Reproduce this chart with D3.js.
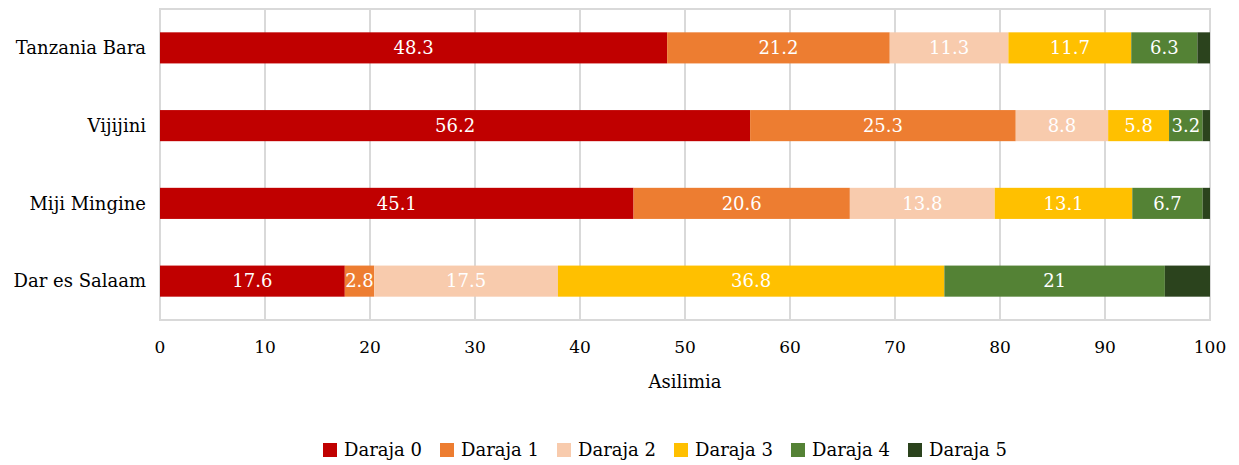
<!DOCTYPE html>
<html>
<head>
<meta charset="utf-8">
<script src="https://cdn.jsdelivr.net/npm/d3@7"></script>
<style>
    body { margin: 0; background: #fff; }
    svg { display: block; }
</style>
</head>
<body>
<svg id="chart"></svg>
<script>
// Data
const categories = ['Tanzania Bara', 'Vijijini', 'Miji Mingine', 'Dar es Salaam'];
const seriesNames = ['Daraja 0', 'Daraja 1', 'Daraja 2', 'Daraja 3', 'Daraja 4', 'Daraja 5'];
const daraja0 = [48.3, 56.2, 45.1, 17.6];
const daraja1 = [21.2, 25.3, 20.6, 2.8];
const daraja2 = [11.3, 8.8, 13.8, 17.5];
const daraja3 = [11.7, 5.8, 13.1, 36.8];
const daraja4 = [6.3, 3.2, 6.7, 21];
const daraja5 = [1.2, 0.7, 0.7, 4.3];
const xTicks = [0, 10, 20, 30, 40, 50, 60, 70, 80, 90, 100];
const colors = ['#C00000', '#ED7D31', '#F8CBAD', '#FFC000', '#548235', '#2B431D'];
const showLabel = [true, true, true, true, true, false];

const FONT = '"Palatino Linotype", "Book Antiqua", Palatino, "DejaVu Serif", serif';
const width = 1239, height = 465;
const margin = { top: 9, right: 29, bottom: 145, left: 160 };
const plotW = width - margin.left - margin.right;
const plotH = height - margin.top - margin.bottom;

const svg = d3.select('#chart')
    .attr('width', width)
    .attr('height', height)
    .style('font-family', FONT);

const seriesValues = [daraja0, daraja1, daraja2, daraja3, daraja4, daraja5];
const rows = categories.map((c, i) => {
    const row = { category: c };
    seriesNames.forEach((s, k) => { row[s] = seriesValues[k][i]; });
    return row;
});
const stacked = d3.stack().keys(seriesNames)(rows);

const x = d3.scaleLinear().domain([0, 100]).range([0, plotW]);
const y = d3.scaleBand().domain(categories).range([0, plotH]).paddingInner(0.6).paddingOuter(0.3);

const g = svg.append('g').attr('transform', `translate(${margin.left},${margin.top})`);

// gridlines
g.selectAll('line.grid')
    .data(xTicks)
    .enter()
    .append('line')
    .attr('class', 'grid')
    .attr('x1', d => x(d)).attr('x2', d => x(d))
    .attr('y1', 0).attr('y2', plotH)
    .attr('stroke', '#D9D9D9')
    .attr('stroke-width', 2);

// plot border
g.append('rect')
    .attr('x', 0).attr('y', 0)
    .attr('width', plotW).attr('height', plotH)
    .attr('fill', 'none')
    .attr('stroke', '#D9D9D9')
    .attr('stroke-width', 2);

// bars
const layers = g.selectAll('g.layer')
    .data(stacked)
    .enter()
    .append('g')
    .attr('class', 'layer')
    .attr('fill', (d, i) => colors[i]);

layers.selectAll('rect')
    .data(d => d)
    .enter()
    .append('rect')
    .attr('x', d => x(d[0]))
    .attr('y', d => y(d.data.category))
    .attr('width', d => x(d[1]) - x(d[0]))
    .attr('height', y.bandwidth());

// value labels
layers.each(function (layer, i) {
    if (!showLabel[i]) return;
    d3.select(this).selectAll('text')
        .data(layer)
        .enter()
        .append('text')
        .attr('x', d => (x(d[0]) + x(d[1])) / 2)
        .attr('y', d => y(d.data.category) + y.bandwidth() / 2)
        .attr('dy', '0.35em')
        .attr('text-anchor', 'middle')
        .attr('fill', '#fff')
        .style('font-size', '18px')
        .text(d => String(+(d[1] - d[0]).toFixed(1)));
});

// category labels
g.selectAll('text.cat')
    .data(categories)
    .enter()
    .append('text')
    .attr('class', 'cat')
    .attr('x', -14)
    .attr('y', d => y(d) + y.bandwidth() / 2)
    .attr('dy', '0.35em')
    .attr('text-anchor', 'end')
    .attr('fill', '#000')
    .style('font-size', '18px')
    .text(d => d);

// x tick labels
g.selectAll('text.tick')
    .data(xTicks)
    .enter()
    .append('text')
    .attr('class', 'tick')
    .attr('x', d => x(d))
    .attr('y', plotH + 27)
    .attr('dy', '0.35em')
    .attr('text-anchor', 'middle')
    .attr('fill', '#000')
    .style('font-size', '17px')
    .text(d => d);

// axis title
g.append('text')
    .attr('x', plotW / 2)
    .attr('y', plotH + 62)
    .attr('dy', '0.35em')
    .attr('text-anchor', 'middle')
    .attr('fill', '#000')
    .style('font-size', '18px')
    .text('Asilimia');

// legend
const legend = svg.append('g');
const items = legend.selectAll('g.item')
    .data(seriesNames)
    .enter()
    .append('g')
    .attr('class', 'item');
items.append('rect')
    .attr('width', 14).attr('height', 14)
    .attr('y', -7)
    .attr('fill', (d, i) => colors[i]);
items.append('text')
    .attr('x', 21)
    .attr('dy', '0.35em')
    .attr('fill', '#000')
    .style('font-size', '18px')
    .text(d => d);

let offset = 0;
const gap = 18;
items.each(function () {
    const w = 21 + this.querySelector('text').getComputedTextLength();
    d3.select(this).attr('transform', `translate(${offset},0)`);
    offset += w + gap;
});
const totalW = offset - gap;
legend.attr('transform', `translate(${665 - totalW / 2},450)`);
</script>
</body>
</html>
